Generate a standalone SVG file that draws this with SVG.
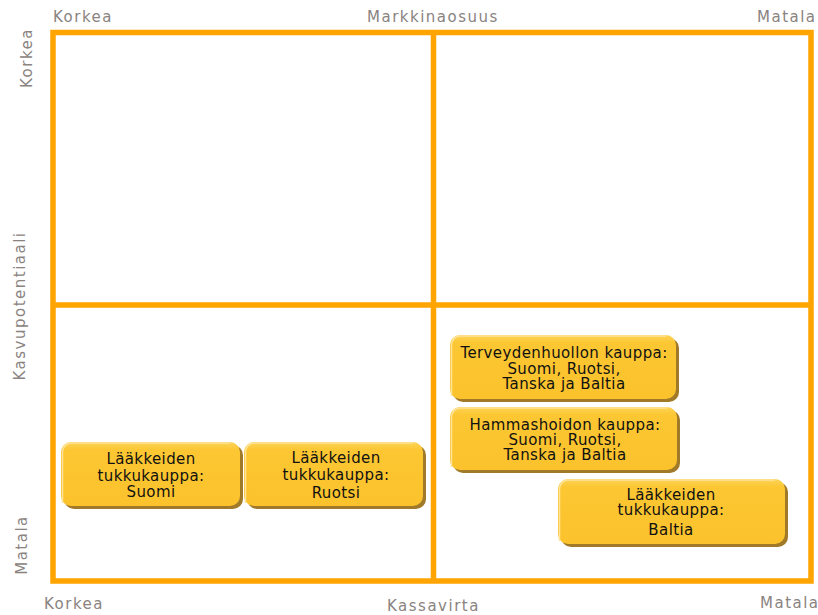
<svg xmlns="http://www.w3.org/2000/svg" width="818" height="615" viewBox="0 0 818 615">
  <defs>
    <linearGradient id="boxFill" x1="0" y1="0" x2="0" y2="1">
      <stop offset="0" stop-color="#FDD35A"/>
      <stop offset="0.12" stop-color="#FCC733"/>
      <stop offset="1" stop-color="#FBC22C"/>
    </linearGradient>
  </defs>
  <style>
    .axis { font-family: "DejaVu Sans", Verdana, sans-serif; font-size: 15px; fill: #8a8380; letter-spacing: 1.5px; }
    .grid { fill: none; stroke: #FFA400; stroke-width: 5.5; }
    .shadow { fill: #A07A28; }
    .box { fill: url(#boxFill); }
    .hl { fill: none; stroke: #FEE49A; stroke-width: 1.5; }
    .lbl { font-family: "DejaVu Sans", Verdana, sans-serif; font-size: 15px; fill: #111111; text-anchor: middle; letter-spacing: 0.4px; }
  </style>
  <rect width="818" height="615" fill="#ffffff"/>

  <g id="grid">
    <rect class="grid" x="53" y="32.5" width="758" height="548.5"/>
    <line class="grid" x1="433.5" y1="32.5" x2="433.5" y2="581"/>
    <line class="grid" x1="53" y1="305" x2="811" y2="305"/>
  </g>

  <g id="axis-labels">
    <text class="axis" x="53" y="22">Korkea</text>
    <text class="axis" x="367" y="22">Markkinaosuus</text>
    <text class="axis" x="757" y="22">Matala</text>
    <text class="axis" x="44" y="609">Korkea</text>
    <text class="axis" x="387" y="611">Kassavirta</text>
    <text class="axis" x="760" y="608">Matala</text>
    <text class="axis" text-anchor="middle" transform="translate(32,58) rotate(-90)">Korkea</text>
    <text class="axis" text-anchor="middle" transform="translate(25,306) rotate(-90)">Kasvupotentiaali</text>
    <text class="axis" text-anchor="middle" transform="translate(27,545) rotate(-90)">Matala</text>
  </g>

  <g id="terveydenhuollon">
    <rect class="shadow" x="453" y="338" width="226" height="64" rx="10"/>
    <rect class="box" x="450" y="335" width="226" height="64" rx="10"/>
    <path class="hl" d="M451.5,396 V345 a9,9 0 0 1 9,-9 H666"/>
    <text class="lbl" x="564" y="358">Terveydenhuollon kauppa:</text>
    <text class="lbl" x="564" y="374">Suomi, Ruotsi,</text>
    <text class="lbl" x="564" y="389">Tanska ja Baltia</text>
  </g>

  <g id="hammashoidon">
    <rect class="shadow" x="453" y="410" width="227" height="63" rx="10"/>
    <rect class="box" x="450" y="407" width="227" height="63" rx="10"/>
    <path class="hl" d="M451.5,467 V417 a9,9 0 0 1 9,-9 H667"/>
    <text class="lbl" x="565" y="430">Hammashoidon kauppa:</text>
    <text class="lbl" x="565" y="445">Suomi, Ruotsi,</text>
    <text class="lbl" x="565" y="460">Tanska ja Baltia</text>
  </g>

  <g id="laakkeiden-baltia">
    <rect class="shadow" x="561" y="482" width="227" height="65" rx="10"/>
    <rect class="box" x="558" y="479" width="227" height="65" rx="10"/>
    <path class="hl" d="M559.5,541 V489 a9,9 0 0 1 9,-9 H775"/>
    <text class="lbl" x="671" y="500">Lääkkeiden</text>
    <text class="lbl" x="671" y="515">tukkukauppa:</text>
    <text class="lbl" x="671" y="535">Baltia</text>
  </g>

  <g id="laakkeiden-suomi">
    <rect class="shadow" x="64" y="445" width="179" height="64" rx="10"/>
    <rect class="box" x="61" y="442" width="179" height="64" rx="10"/>
    <path class="hl" d="M62.5,503 V452 a9,9 0 0 1 9,-9 H230"/>
    <text class="lbl" x="151" y="464">Lääkkeiden</text>
    <text class="lbl" x="151" y="481">tukkukauppa:</text>
    <text class="lbl" x="151" y="497">Suomi</text>
  </g>

  <g id="laakkeiden-ruotsi">
    <rect class="shadow" x="247" y="445" width="179" height="64" rx="10"/>
    <rect class="box" x="244" y="442" width="179" height="64" rx="10"/>
    <path class="hl" d="M245.5,503 V452 a9,9 0 0 1 9,-9 H413"/>
    <text class="lbl" x="336" y="463">Lääkkeiden</text>
    <text class="lbl" x="336" y="480">tukkukauppa:</text>
    <text class="lbl" x="336" y="498">Ruotsi</text>
  </g>
</svg>
